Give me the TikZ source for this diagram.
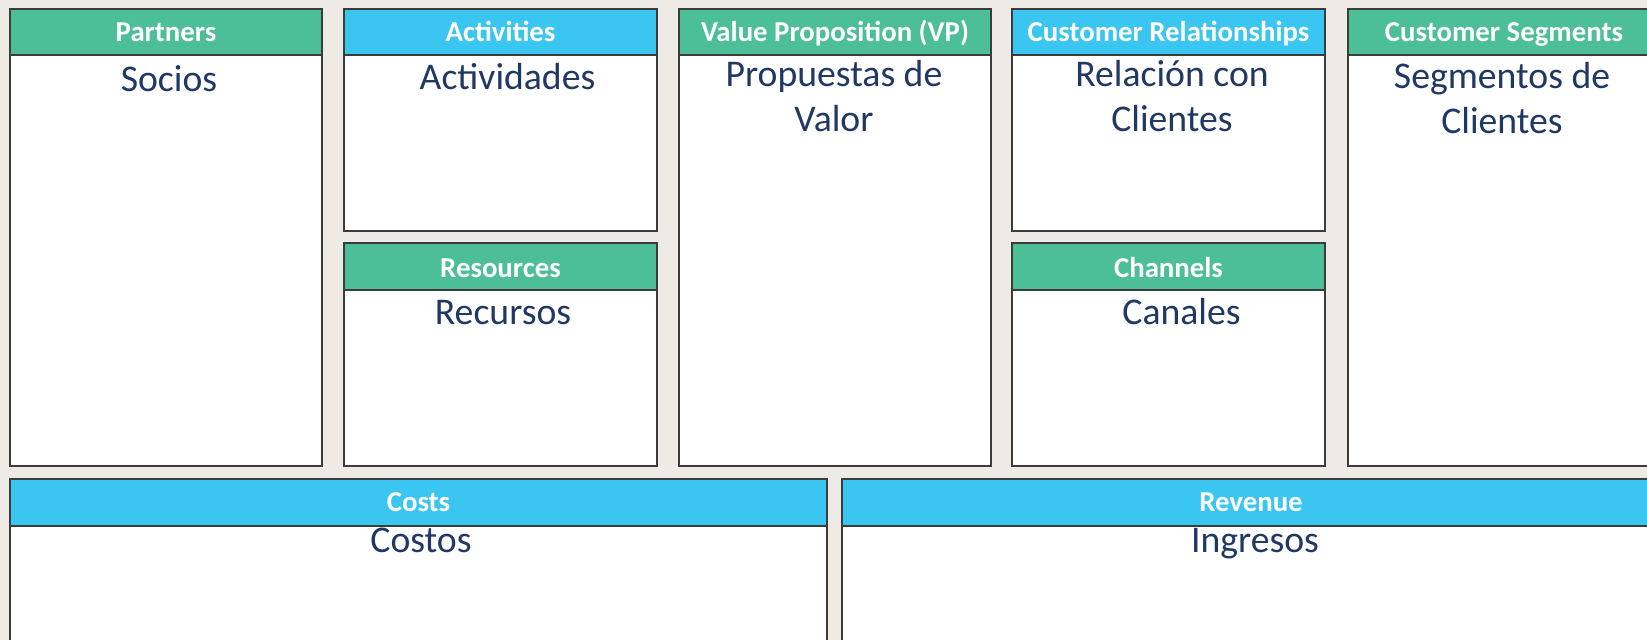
\documentclass[tikz,border=0pt]{standalone}
\usepackage{fontspec}
\setmainfont{Carlito}
\definecolor{bg}{RGB}{238,235,231}
\definecolor{hgreen}{RGB}{76,190,152}
\definecolor{hblue}{RGB}{59,197,241}
\definecolor{navy}{RGB}{31,56,100}
\definecolor{edgec}{RGB}{60,60,60}
\begin{document}
\begin{tikzpicture}[x=1pt,y=-1pt,
  bodybox/.style={draw=edgec,line width=1.6pt,fill=white},
  greenhead/.style={draw=edgec,line width=1.6pt,fill=hgreen},
  bluehead/.style={draw=edgec,line width=1.6pt,fill=hblue},
  headtext/.style={text=white,inner sep=0pt,anchor=base,font=\fontsize{28.8}{34}\selectfont\bfseries},
  bodytext/.style={text=navy,inner sep=0pt,anchor=base,align=center,font=\fontsize{37.7}{45}\selectfont}]
\useasboundingbox (0,0) rectangle (1647,640);
\fill[bg] (0,0) rectangle (1647,640);
% Partners
\draw[bodybox] (10,55) rectangle (322,466);
\draw[greenhead] (10,9) rectangle (322,55);
\node[headtext] (hpart) at (166,41) {Partners};
\node[bodytext] (tpart) at (169,91) {Socios};
% Activities
\draw[bodybox] (344,55) rectangle (657,231);
\draw[bluehead] (344,9) rectangle (657,55);
\node[headtext] (hact) at (500.5,41) {Activities};
\node[bodytext] (tact) at (507.5,89) {Actividades};
% Resources
\draw[bodybox] (344,290) rectangle (657,466);
\draw[greenhead] (344,243) rectangle (657,290);
\node[headtext] (hres) at (500.5,277) {Resources};
\node[bodytext] (tres) at (503,324) {Recursos};
% Value proposition
\draw[bodybox] (679,55) rectangle (991,466);
\draw[greenhead] (679,9) rectangle (991,55);
\node[headtext] (hvp) at (835,41) {Value Proposition (VP)};
\node[bodytext] (tvp) at (834,131) {Propuestas de\\Valor};
% Customer relationships
\draw[bodybox] (1012,55) rectangle (1325,231);
\draw[bluehead] (1012,9) rectangle (1325,55);
\node[headtext] (hcr) at (1168.5,41) {Customer Relationships};
\node[bodytext] (tcr) at (1172,131) {Relación con\\Clientes};
% Channels
\draw[bodybox] (1012,290) rectangle (1325,466);
\draw[greenhead] (1012,243) rectangle (1325,290);
\node[headtext] (hch) at (1168.5,277) {Channels};
\node[bodytext] (tch) at (1181.5,324) {Canales};
% Customer segments
\draw[bodybox] (1348,55) rectangle (1660,466);
\draw[greenhead] (1348,9) rectangle (1660,55);
\node[headtext] (hcs) at (1504,41) {Customer Segments};
\node[bodytext] (tcs) at (1502,133) {Segmentos de\\Clientes};
% Costs
\draw[bodybox] (10,526) rectangle (827,660);
\draw[bluehead] (10,479) rectangle (827,526);
\node[headtext] (hcost) at (418.5,511) {Costs};
\node[bodytext] (tcost) at (421,552) {Costos};
% Revenue
\draw[bodybox] (842,526) rectangle (1660,660);
\draw[bluehead] (842,479) rectangle (1660,526);
\node[headtext] (hrev) at (1251,511) {Revenue};
\node[bodytext] (trev) at (1255,552) {Ingresos};
\end{tikzpicture}
\end{document}
